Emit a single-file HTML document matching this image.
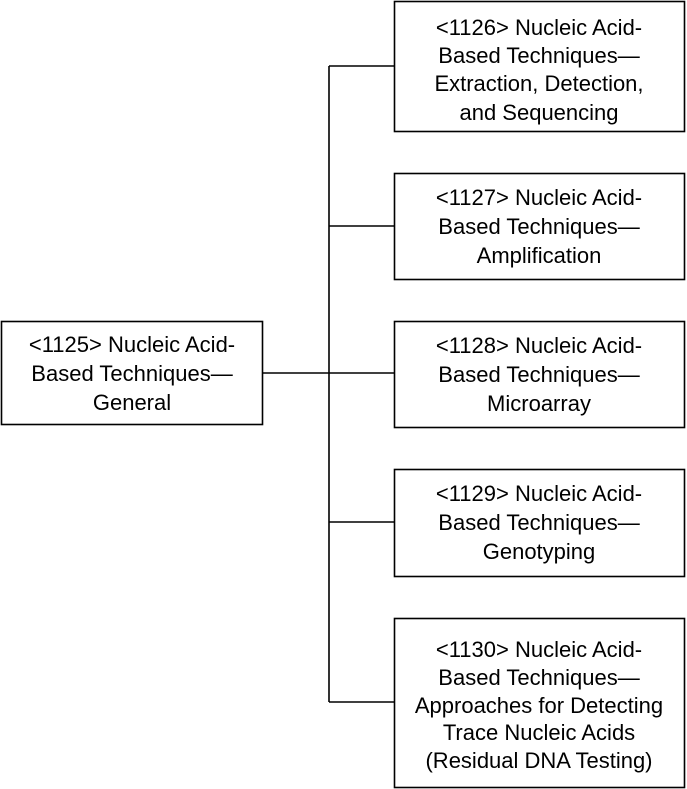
<!DOCTYPE html>
<html><head><meta charset="utf-8"><style>
html,body{margin:0;padding:0;background:#fff;}
svg{display:block}
text{font-family:"Liberation Sans",sans-serif;font-size:22px;fill:#000;text-anchor:middle}
</style></head><body>
<svg width="687" height="789" viewBox="0 0 687 789" xmlns="http://www.w3.org/2000/svg">
<g fill="none" stroke="#000" stroke-width="1.6">
<rect x="1.5" y="321.5" width="261" height="103"/>
<rect x="394.5" y="1.5" width="290" height="130"/>
<rect x="394.5" y="173.5" width="290" height="106"/>
<rect x="394.5" y="321.5" width="290" height="106"/>
<rect x="394.5" y="469.5" width="290" height="107"/>
<rect x="394.5" y="618.5" width="290" height="169"/>
<line x1="329" y1="66" x2="329" y2="702"/>
<line x1="262" y1="373" x2="394" y2="373"/>
<line x1="329" y1="66" x2="394" y2="66"/>
<line x1="329" y1="226" x2="394" y2="226"/>
<line x1="329" y1="522" x2="394" y2="522"/>
<line x1="329" y1="702" x2="394" y2="702"/>
</g>
<text x="132" y="352">&lt;1125&gt; Nucleic Acid-</text>
<text x="132" y="381">Based Techniques—</text>
<text x="132" y="410">General</text>

<text x="539" y="35">&lt;1126&gt; Nucleic Acid-</text>
<text x="539" y="63">Based Techniques—</text>
<text x="539" y="91">Extraction, Detection,</text>
<text x="539" y="120">and Sequencing</text>

<text x="539" y="205">&lt;1127&gt; Nucleic Acid-</text>
<text x="539" y="234">Based Techniques—</text>
<text x="539" y="263">Amplification</text>

<text x="539" y="353">&lt;1128&gt; Nucleic Acid-</text>
<text x="539" y="382">Based Techniques—</text>
<text x="539" y="411">Microarray</text>

<text x="539" y="501">&lt;1129&gt; Nucleic Acid-</text>
<text x="539" y="530">Based Techniques—</text>
<text x="539" y="559">Genotyping</text>

<text x="539" y="657">&lt;1130&gt; Nucleic Acid-</text>
<text x="539" y="685">Based Techniques—</text>
<text x="539" y="713">Approaches for Detecting</text>
<text x="539" y="740">Trace Nucleic Acids</text>
<text x="539" y="768">(Residual DNA Testing)</text>
</svg>
</body></html>
